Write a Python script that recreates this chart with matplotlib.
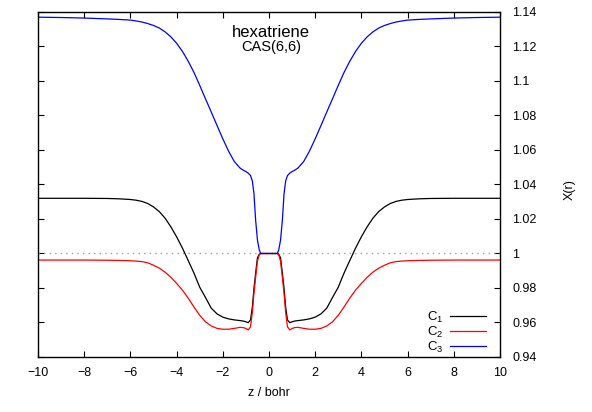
import matplotlib
matplotlib.use('Agg')
import matplotlib.pyplot as plt

plt.rcParams['font.family'] = ['Liberation Sans', 'DejaVu Sans']
plt.rcParams['mathtext.fontset'] = 'custom'
plt.rcParams['mathtext.rm'] = 'Liberation Sans'
plt.rcParams['mathtext.it'] = 'Liberation Sans'

# z / bohr
z = [-10, -9, -8, -7, -6.5, -6, -5.75, -5.5, -5.25, -5, -4.75, -4.5, -4.25, -4,
     -3.75, -3.5, -3.25, -3, -2.75, -2.5, -2.25, -2, -1.75, -1.5, -1.25, -1.1,
     -1.0, -0.9, -0.8, -0.72, -0.65, -0.58, -0.5, -0.42, -0.36, -0.2,
     0,
     0.2, 0.36, 0.42, 0.5, 0.58, 0.65, 0.72, 0.8, 0.9, 1.0, 1.1, 1.25, 1.5,
     1.75, 2, 2.25, 2.5, 2.75, 3, 3.25, 3.5, 3.75, 4, 4.25, 4.5, 4.75, 5, 5.25,
     5.5, 5.75, 6, 6.5, 7, 8, 9, 10]

c1 = [1.0320, 1.0320, 1.0320, 1.0319, 1.0317, 1.0313, 1.0309, 1.0302, 1.0290,
      1.0270, 1.0243, 1.0205, 1.0155, 1.0097, 1.0032, 0.9960, 0.9887, 0.9805,
      0.9745, 0.9683, 0.9650, 0.9631, 0.9621, 0.9615, 0.9611, 0.9608, 0.9604,
      0.9599, 0.9615, 0.9690, 0.9800, 0.9885, 0.9975, 0.9996, 1.0000, 1.0000,
      1.0000,
      1.0000, 1.0000, 0.9996, 0.9975, 0.9885, 0.9800, 0.9690, 0.9615, 0.9599,
      0.9604, 0.9608, 0.9611, 0.9615, 0.9621, 0.9631, 0.9650, 0.9683, 0.9745,
      0.9805, 0.9887, 0.9960, 1.0032, 1.0097, 1.0155, 1.0205, 1.0243, 1.0270,
      1.0290, 1.0302, 1.0309, 1.0313, 1.0317, 1.0319, 1.0320, 1.0320, 1.0320]

c2 = [0.9962, 0.9962, 0.9962, 0.9961, 0.9960, 0.9958, 0.9956, 0.9953, 0.9946,
      0.9932, 0.9915, 0.9892, 0.9862, 0.9827, 0.9788, 0.9742, 0.9690, 0.9642,
      0.9604, 0.9580, 0.9566, 0.9561, 0.9561, 0.9566, 0.9572, 0.9570, 0.9565,
      0.9557, 0.9575, 0.9660, 0.9770, 0.9860, 0.9955, 0.9993, 1.0000, 1.0000,
      1.0000,
      1.0000, 1.0000, 0.9993, 0.9955, 0.9860, 0.9770, 0.9660, 0.9575, 0.9557,
      0.9565, 0.9570, 0.9572, 0.9566, 0.9561, 0.9561, 0.9566, 0.9580, 0.9604,
      0.9642, 0.9690, 0.9742, 0.9788, 0.9827, 0.9862, 0.9892, 0.9915, 0.9932,
      0.9946, 0.9953, 0.9956, 0.9958, 0.9960, 0.9961, 0.9962, 0.9962, 0.9962]

c3 = [1.1370, 1.1368, 1.1365, 1.1360, 1.1357, 1.1353, 1.1348, 1.1342, 1.1333,
      1.1322, 1.1307, 1.1285, 1.1256, 1.1219, 1.1172, 1.1115, 1.1050, 1.0975,
      1.0897, 1.0820, 1.0742, 1.0665, 1.0593, 1.0533, 1.0495, 1.0482, 1.0475,
      1.0466, 1.0452, 1.0420, 1.0345, 1.0195, 1.0078, 1.0020, 1.0000, 1.0000,
      1.0000,
      1.0000, 1.0000, 1.0020, 1.0078, 1.0195, 1.0345, 1.0420, 1.0452, 1.0466,
      1.0475, 1.0482, 1.0495, 1.0533, 1.0593, 1.0665, 1.0742, 1.0820, 1.0897,
      1.0975, 1.1050, 1.1115, 1.1172, 1.1219, 1.1256, 1.1285, 1.1307, 1.1322,
      1.1333, 1.1342, 1.1348, 1.1353, 1.1357, 1.1360, 1.1365, 1.1368, 1.1370]

labels = ['C$_1$', 'C$_2$', 'C$_3$']
colors = ['black', 'red', 'blue']

xticks = list(range(-10, 11, 2))
yticks = [0.94, 0.96, 0.98, 1.0, 1.02, 1.04, 1.06, 1.08, 1.1, 1.12, 1.14]
yticklabels = ['0.94', '0.96', '0.98', '1', '1.02', '1.04', '1.06', '1.08',
               '1.1', '1.12', '1.14']

fig = plt.figure(figsize=(5.92, 4.12), dpi=100)
ax = fig.add_axes([38/592, 55/412, 462/592, 345/412])

# reference line at X = 1
ax.axhline(1.0, color='#a0a0a0', lw=1.0, dashes=(1, 3))
for vals, lab, col in zip([c1, c2, c3], labels, colors):
    ax.plot(z, vals, color=col, lw=0.9, label=lab)

ax.set_xlim(-10, 10)
ax.set_ylim(0.94, 1.14)
ax.set_xticks(xticks)
ax.set_yticks(yticks)
ax.set_yticklabels(yticklabels)
ax.tick_params(direction='in', length=4.5, width=0.8, top=True, right=True,
               left=True, labelleft=False, labelright=True, labelsize=9)
ax.tick_params(axis='y', pad=9)
ax.tick_params(axis='x', pad=7)
for s in ax.spines.values():
    s.set_linewidth(1.0)

ax.set_xlabel('z / bohr', fontsize=9, labelpad=6)
ax.yaxis.set_label_position('right')
ax.set_ylabel('X(r)', fontsize=9)
ax.yaxis.set_label_coords(1.139, 0.484)

ax.text(0.09, 1.128, 'hexatriene', fontsize=12, ha='center', va='center')
ax.text(0.09, 1.1195, 'CAS(6,6)', fontsize=10.5, ha='center', va='center')

ax.legend(loc='lower right', bbox_to_anchor=(0.970, 0.006), frameon=False,
          markerfirst=False, fontsize=9.5, labelspacing=0,
          handlelength=2.75, handletextpad=0.5, borderpad=0,
          borderaxespad=0)

fig.savefig('out.png', dpi=100)
